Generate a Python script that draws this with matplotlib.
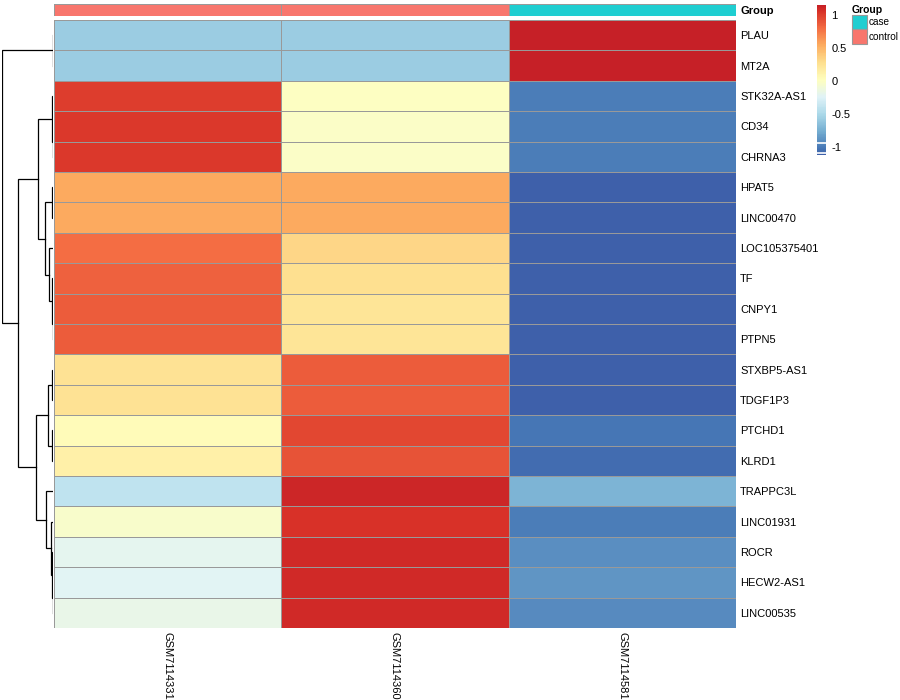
import numpy as np
from matplotlib import pyplot as plt
from matplotlib import colors
from matplotlib.patches import Rectangle

plt.rcParams['font.family'] = ['Liberation Sans', 'DejaVu Sans']

# row-scaled expression values (z-scores)
genes = ["PLAU", "MT2A", "STK32A-AS1", "CD34", "CHRNA3", "HPAT5", "LINC00470",
         "LOC105375401", "TF", "CNPY1", "PTPN5", "STXBP5-AS1", "TDGF1P3",
         "PTCHD1", "KLRD1", "TRAPPC3L", "LINC01931", "ROCR", "HECW2-AS1", "LINC00535"]
samples = ["GSM7114331", "GSM7114360", "GSM7114581"]
gsm7114331 = [-0.58, -0.58, 1.00, 1.02, 1.02, 0.56, 0.56, 0.80, 0.85, 0.88, 0.88,
              0.25, 0.25, 0.05, 0.15, -0.40, -0.05, -0.20, -0.22, -0.17]
gsm7114360 = [-0.58, -0.58, 0.00, -0.02, -0.02, 0.56, 0.56, 0.33, 0.27, 0.23, 0.23,
              0.87, 0.87, 0.97, 0.92, 1.13, 1.05, 1.10, 1.10, 1.10]
gsm7114581 = [1.155, 1.155, -1.00, -1.00, -1.00, -1.12, -1.12, -1.12, -1.12, -1.11, -1.11,
              -1.12, -1.12, -1.02, -1.07, -0.73, -1.00, -0.90, -0.88, -0.93]
group = ["control", "control", "case"]
group_colors = {"case": "#1FCED1", "control": "#F8766D"}

# row clustering: (left, right, height); leaves 0..19, new clusters numbered from 20
merges = [(0, 1, 0.3), (3, 4, 0.5), (2, 21, 1.0), (5, 6, 0.6), (9, 10, 0.5),
          (8, 24, 1.2), (7, 25, 4.0), (23, 26, 8.0), (22, 27, 15.0), (11, 12, 0.8),
          (13, 14, 0.8), (29, 30, 5.0), (18, 19, 0.4), (17, 32, 1.0), (16, 33, 2.0),
          (15, 34, 7.0), (31, 35, 17.0), (28, 36, 35.0), (20, 37, 51.3)]

data = np.array([gsm7114331, gsm7114360, gsm7114581]).T
n = len(genes)

base = plt.get_cmap('RdYlBu_r')
cmap = colors.ListedColormap(base(np.linspace(0.07, 0.93, 100)))
norm = colors.Normalize(vmin=data.min(), vmax=data.max())

W, H = 900, 700
fig = plt.figure(figsize=(9, 7), dpi=100)

def px_axes(x0, y0, x1, y1):
    return fig.add_axes([x0 / W, 1 - y1 / H, (x1 - x0) / W, (y1 - y0) / H])

# heatmap
ax = px_axes(54, 20, 736, 628)
ax.pcolormesh(data, cmap=cmap, norm=norm, edgecolors='#999999', linewidth=0.5)
ax.set_xlim(0, 3)
ax.set_ylim(n, 0)
ax.yaxis.tick_right()
ax.set_yticks(np.arange(n) + 0.5)
ax.set_yticklabels(genes, fontsize=8)
ax.set_xticks(np.arange(3) + 0.5)
ax.set_xticklabels(samples, fontsize=8, rotation=270, va='top', ha='center')
ax.tick_params(length=0, pad=3)
for s in ax.spines.values():
    s.set_visible(False)

# annotation bar
ax_ann = px_axes(54, 4, 736, 16)
ann = np.array([[0 if g == "case" else 1 for g in group]])
ax_ann.pcolormesh(ann, cmap=colors.ListedColormap([group_colors["case"], group_colors["control"]]),
                  vmin=0, vmax=1, edgecolors='#999999', linewidth=0.5)
ax_ann.set_xlim(0, 3)
ax_ann.set_ylim(0, 1)
ax_ann.set_xticks([])
ax_ann.yaxis.tick_right()
ax_ann.set_yticks([0.5])
ax_ann.set_yticklabels(["Group"], fontsize=8, fontweight='bold')
ax_ann.tick_params(length=0, pad=3)
for s in ax_ann.spines.values():
    s.set_visible(False)

# dendrogram
ax_d = px_axes(2, 20, 53, 628)
pos = {i: i + 0.5 for i in range(n)}
hgt = {i: 0.0 for i in range(n)}
for k, (a, b, h) in enumerate(merges):
    ax_d.plot([hgt[a], h, h, hgt[b]], [pos[a], pos[a], pos[b], pos[b]],
              color='black', linewidth=0.9, solid_joinstyle='miter')
    pos[n + k] = (pos[a] + pos[b]) / 2
    hgt[n + k] = h
ax_d.set_xlim(merges[-1][2] * 1.0, 0)
ax_d.set_ylim(n, 0)
ax_d.axis('off')

# colour legend
ax_c = px_axes(817, 5, 826, 155)
grad = np.linspace(norm.vmin, norm.vmax, 200).reshape(-1, 1)
ax_c.imshow(grad, cmap=cmap, norm=norm, aspect='auto', origin='lower',
            extent=[0, 1, norm.vmin, norm.vmax])
for v in [-0.94, -1.095]:
    ax_c.axhline(v, color='white', linewidth=1.2)
ax_c.set_ylim(norm.vmin, norm.vmax)
ax_c.set_xticks([])
ax_c.yaxis.tick_right()
ax_c.set_yticks([-1, -0.5, 0, 0.5, 1])
ax_c.set_yticklabels(["-1", "-0.5", "0", "0.5", "1"], fontsize=8)
ax_c.tick_params(length=0, pad=4)
for s in ax_c.spines.values():
    s.set_visible(False)

# group legend
fig.text(852 / W, 1 - 10 / H, "Group", fontsize=7.5, fontweight='bold', va='center', ha='left')
for i, g in enumerate(["case", "control"]):
    y0 = 15 + i * 14.5
    fig.add_artist(Rectangle((852 / W, 1 - (y0 + 14) / H), 15 / W, 14 / H,
                             transform=fig.transFigure, facecolor=group_colors[g],
                             edgecolor='#999999', linewidth=0.8))
    fig.text(869 / W, 1 - (y0 + 7) / H, g, fontsize=7.2, va='center', ha='left')

fig.savefig("out.png", dpi=100)
